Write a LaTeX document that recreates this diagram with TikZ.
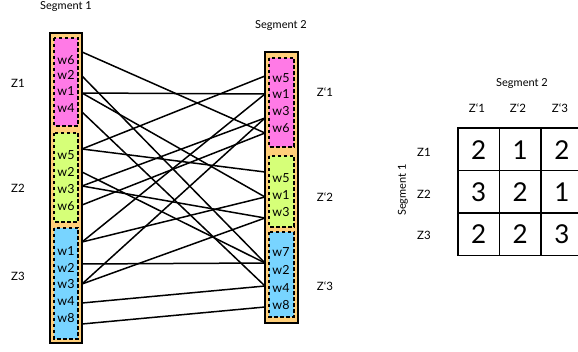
\documentclass[tikz,border=0pt]{standalone}
\usepackage{fontspec}
\setmainfont{Lato}
\definecolor{segorange}{HTML}{FFCF7A}
\definecolor{zpink}{HTML}{FF7AE6}
\definecolor{zgreen}{HTML}{D6FF78}
\definecolor{zblue}{HTML}{78D4FF}
\begin{document}
\begin{tikzpicture}[x=1pt,y=-1pt,
  outerbox/.style={draw=black,line width=1.8pt,fill=segorange},
  zonebox/.style={draw=black,line width=1.7pt,dash pattern=on 3.5pt off 2.5pt},
  word/.style={inner sep=0pt,font=\fontsize{12.5}{13}\selectfont},
  zlabel/.style={inner sep=0pt,font=\fontsize{11.5}{13}\selectfont},
  seglabel/.style={inner sep=0pt,font=\fontsize{11}{13}\selectfont},
  link/.style={draw=black,line width=1.5pt},
  cellnum/.style={inner sep=0pt,font=\fontsize{26}{28}\selectfont},
  grid/.style={draw=black,line width=1.8pt}]
\useasboundingbox (0,0) rectangle (578,352);

% Segment 1 column
\draw[outerbox] (50,33) rectangle (82,343);
\draw[zonebox,fill=zpink] (54,38) rectangle (78,126);
\draw[zonebox,fill=zgreen] (54,133) rectangle (78,222);
\draw[zonebox,fill=zblue] (54,228) rectangle (78,339);
\node[seglabel] (seg1) at (66,7) {Segment 1};
\node[zlabel] (z1) at (18,83) {Z1};
\node[zlabel] (z2) at (18,188) {Z2};
\node[zlabel] (z3) at (18,276) {Z3};
\node[word] (a1) at (66,60) {w6};
\node[word] (a2) at (66,75) {w2};
\node[word] (a3) at (66,91) {w1};
\node[word] (a4) at (66,108) {w4};
\node[word] (a5) at (66,155) {w5};
\node[word] (a6) at (66,172) {w2};
\node[word] (a7) at (66,189) {w3};
\node[word] (a8) at (66,206) {w6};
\node[word] (a9) at (66,251) {w1};
\node[word] (a10) at (66,268) {w2};
\node[word] (a11) at (66,284) {w3};
\node[word] (a12) at (66,301) {w4};
\node[word] (a13) at (66,318) {w8};

% Segment 2 column
\draw[outerbox] (265,52) rectangle (298,323);
\draw[zonebox,fill=zpink] (269,58) rectangle (294,147);
\draw[zonebox,fill=zgreen] (269,156) rectangle (294,227);
\draw[zonebox,fill=zblue] (269,232) rectangle (294,317);
\node[seglabel] (seg2) at (281,26) {Segment 2};
\node[zlabel] (zz1) at (325,92) {Z`1};
\node[zlabel] (zz2) at (325,197) {Z`2};
\node[zlabel] (zz3) at (325,286) {Z`3};
\node[word] (b1) at (281,78) {w5};
\node[word] (b2) at (281,94) {w1};
\node[word] (b3) at (281,111) {w3};
\node[word] (b4) at (281,128) {w6};
\node[word] (b5) at (281,178) {w5};
\node[word] (b6) at (281,195) {w1};
\node[word] (b7) at (281,212) {w3};
\node[word] (b8) at (281,252) {w7};
\node[word] (b9) at (281,270) {w2};
\node[word] (b10) at (281,288) {w4};
\node[word] (b11) at (281,305) {w8};

% connector anchors
\coordinate (la1) at (82,52);
\coordinate (la2) at (82,76);
\coordinate (la3) at (82,93);
\coordinate (la4) at (82,112);
\coordinate (la5) at (82,149);
\coordinate (la6) at (82,172);
\coordinate (la7) at (82,186);
\coordinate (la8) at (82,205);
\coordinate (la9) at (82,242);
\coordinate (la10) at (82,264);
\coordinate (la11) at (82,284);
\coordinate (la12) at (82,303);
\coordinate (la13) at (82,324);
\coordinate (rb1) at (265,76);
\coordinate (rb2) at (265,94);
\coordinate (rb3) at (265,118);
\coordinate (rb4) at (265,133);
\coordinate (rb5) at (265,172);
\coordinate (rb6) at (265,197);
\coordinate (rb7) at (265,218);
\coordinate (rb9) at (265,263);
\coordinate (rb10) at (265,286);
\coordinate (rb11) at (265,307);

% links
\draw[link] (la1) -- (rb4);
\draw[link] (la2) -- (rb9);
\draw[link] (la3) -- (rb2);
\draw[link] (la3) -- (rb6);
\draw[link] (la4) -- (rb10);
\draw[link] (la5) -- (rb1);
\draw[link] (la5) -- (rb5);
\draw[link] (la6) -- (rb9);
\draw[link] (la7) -- (rb3);
\draw[link] (la7) -- (rb7);
\draw[link] (la8) -- (rb4);
\draw[link] (la9) -- (rb2);
\draw[link] (la9) -- (rb6);
\draw[link] (la10) -- (rb9);
\draw[link] (la11) -- (rb3);
\draw[link] (la11) -- (rb7);
\draw[link] (la12) -- (rb10);
\draw[link] (la13) -- (rb11);

% table
\node[seglabel] (tseg2) at (522,84) {Segment 2};
\node[seglabel,rotate=90] (tseg1) at (403,190) {Segment 1};
\node[zlabel] (tc1) at (477,108) {Z`1};
\node[zlabel] (tc2) at (518,108) {Z`2};
\node[zlabel] (tc3) at (560,108) {Z`3};
\node[zlabel] (tr1) at (424,152) {Z1};
\node[zlabel] (tr2) at (424,194) {Z2};
\node[zlabel] (tr3) at (424,235) {Z3};
\draw[grid] (458,128) rectangle (583,255.5);
\draw[grid] (499.5,128) -- (499.5,255.5);
\draw[grid] (541,128) -- (541,255.5);
\draw[grid] (458,170.5) -- (583,170.5);
\draw[grid] (458,213) -- (583,213);
\node[cellnum] (c11) at (478.75,150) {2};
\node[cellnum] (c12) at (520.25,150) {1};
\node[cellnum] (c13) at (562,150) {2};
\node[cellnum] (c21) at (478.75,192) {3};
\node[cellnum] (c22) at (520.25,192) {2};
\node[cellnum] (c23) at (562,192) {1};
\node[cellnum] (c31) at (478.75,234) {2};
\node[cellnum] (c32) at (520.25,234) {2};
\node[cellnum] (c33) at (562,234) {3};
\end{tikzpicture}
\end{document}
